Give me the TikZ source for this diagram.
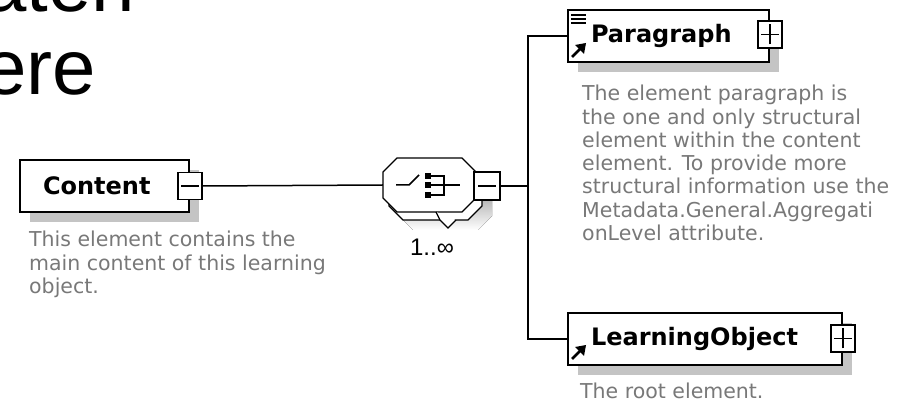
\documentclass[tikz,border=0pt]{standalone}
\usepackage{fontspec}
\usetikzlibrary{shadows,calc}
\newfontfamily\elfont{DejaVu Sans}
\newfontfamily\bigfont{Liberation Sans}
\definecolor{shade}{RGB}{196,196,196}
\definecolor{desc}{RGB}{120,120,120}
\begin{document}
\begin{tikzpicture}[x=1pt,y=-1pt,
  elbox/.style={draw, line width=2pt, fill=white, minimum height=52pt,
    inner xsep=23pt, inner ysep=0pt, align=left, anchor=north west,
    font=\elfont\bfseries\fontsize{24}{28}\selectfont,
    drop shadow={shadow xshift=10pt, shadow yshift=-10pt, fill=shade, opacity=1}},
  btn/.style={draw, line width=1.6pt, fill=white, minimum width=24pt, minimum height=27pt, inner sep=0pt},
  minusbtn/.style={btn, path picture={\draw[line width=1.8pt]
    ([xshift=-9pt]path picture bounding box.center) -- ([xshift=9pt]path picture bounding box.center);}},
  plusbtn/.style={btn, path picture={\draw[line width=1.8pt]
    ([xshift=-9pt]path picture bounding box.center) -- ([xshift=9pt]path picture bounding box.center)
    ([yshift=-10pt]path picture bounding box.center) -- ([yshift=10pt]path picture bounding box.center);}},
  desctext/.style={font=\elfont\fontsize{20.5}{23.3}\selectfont, text=desc, align=left, inner sep=0pt, anchor=north west},
  conn/.style={line width=1.5pt},
  bigtext/.style={font=\bigfont\fontsize{78}{83}\selectfont, inner sep=0pt, anchor=base west}
]
\useasboundingbox (0,0) rectangle (903,403);

% slide title fragments
\node[bigtext] (t1) at (-17,12) {aten};
\node[bigtext] (t2) at (-17,95) {ere};

% Content element
\node[elbox, text width=123pt] (content) at (19,159) {Content};
\node[minusbtn] (contentbtn) at (content.east) {};
\node[desctext] (contentdesc) at (29,231) {This element contains the\\main content of this learning\\object.};

% sequence compositor
\node[minimum width=93pt, minimum height=54pt, inner sep=0pt] (seq) at (429.5,185) {};
\fill[shade] (413,176) -- (478,176) -- (492,190) -- (492,216) -- (478,230) -- (413,230) -- (399,216) -- (399,190) -- cycle;
\draw[line width=1.2pt, fill=white] (403,166) -- (468,166) -- (482,180) -- (482,206) -- (468,220) -- (403,220) -- (389,206) -- (389,180) -- cycle;
\draw[line width=1.2pt, fill=white] (397,158) -- (462,158) -- (476,172) -- (476,198) -- (462,212) -- (397,212) -- (383,198) -- (383,172) -- cycle;
\draw[line width=1.2pt, fill=white] (436,212) -- (440,220) -- (448,228) -- (456,220);
% sequence icon
\draw[line width=1.5pt] (396,185) -- (409,185) -- (419,175);
\fill (425,173) rectangle (431,179);
\fill (425,182) rectangle (431,188);
\fill (425,192) rectangle (431,198);
\draw[line width=1.5pt] (431,176) -- (444,176) -- (444,195) -- (431,195);
\draw[line width=1.5pt] (431,185) -- (460,185);
\node[minusbtn, minimum width=26pt, minimum height=28pt] (seqbtn) at (487,186) {};
\node[font=\bigfont\fontsize{24}{26}\selectfont, inner sep=0pt] (mult) at (432,247) {1..∞};

% Paragraph element
\node[elbox, text width=155pt] (para) at (567,9) {Paragraph};
\node[plusbtn] (parabtn) at ([yshift=1.5pt]para.east) {};
\draw[line width=1.5pt] (571,15) -- (586,15) (571,19) -- (586,19) (571,23) -- (586,23);
\draw[line width=2.5pt] (572,57) -- (580,49);
\fill (586,43) -- (575,45) -- (584,54) -- cycle;
\node[desctext] (paradesc) at (582,85) {The element paragraph is\\the one and only structural\\element within the content\\element. To provide more\\structural information use the\\Metadata.General.Aggregati\\onLevel attribute.};

% LearningObject element
\node[elbox, text width=228pt] (lo) at (567,312) {LearningObject};
\node[plusbtn] (lobtn) at ([yshift=0.5pt]lo.east) {};
\draw[line width=2.5pt] (572,359) -- (580,351);
\fill (586,345) -- (575,347) -- (584,356) -- cycle;
\node[desctext] (lodesc) at (580,383) {The root element.};

% connectors
\coordinate (bus) at (528,186);
\draw[conn] (contentbtn.east) -- (seq.west);
\draw[conn] (seqbtn.east) -- (bus);
\draw[conn] (para.west) -| (bus);
\draw[conn] (lo.west) -| (bus);
\end{tikzpicture}
\end{document}
